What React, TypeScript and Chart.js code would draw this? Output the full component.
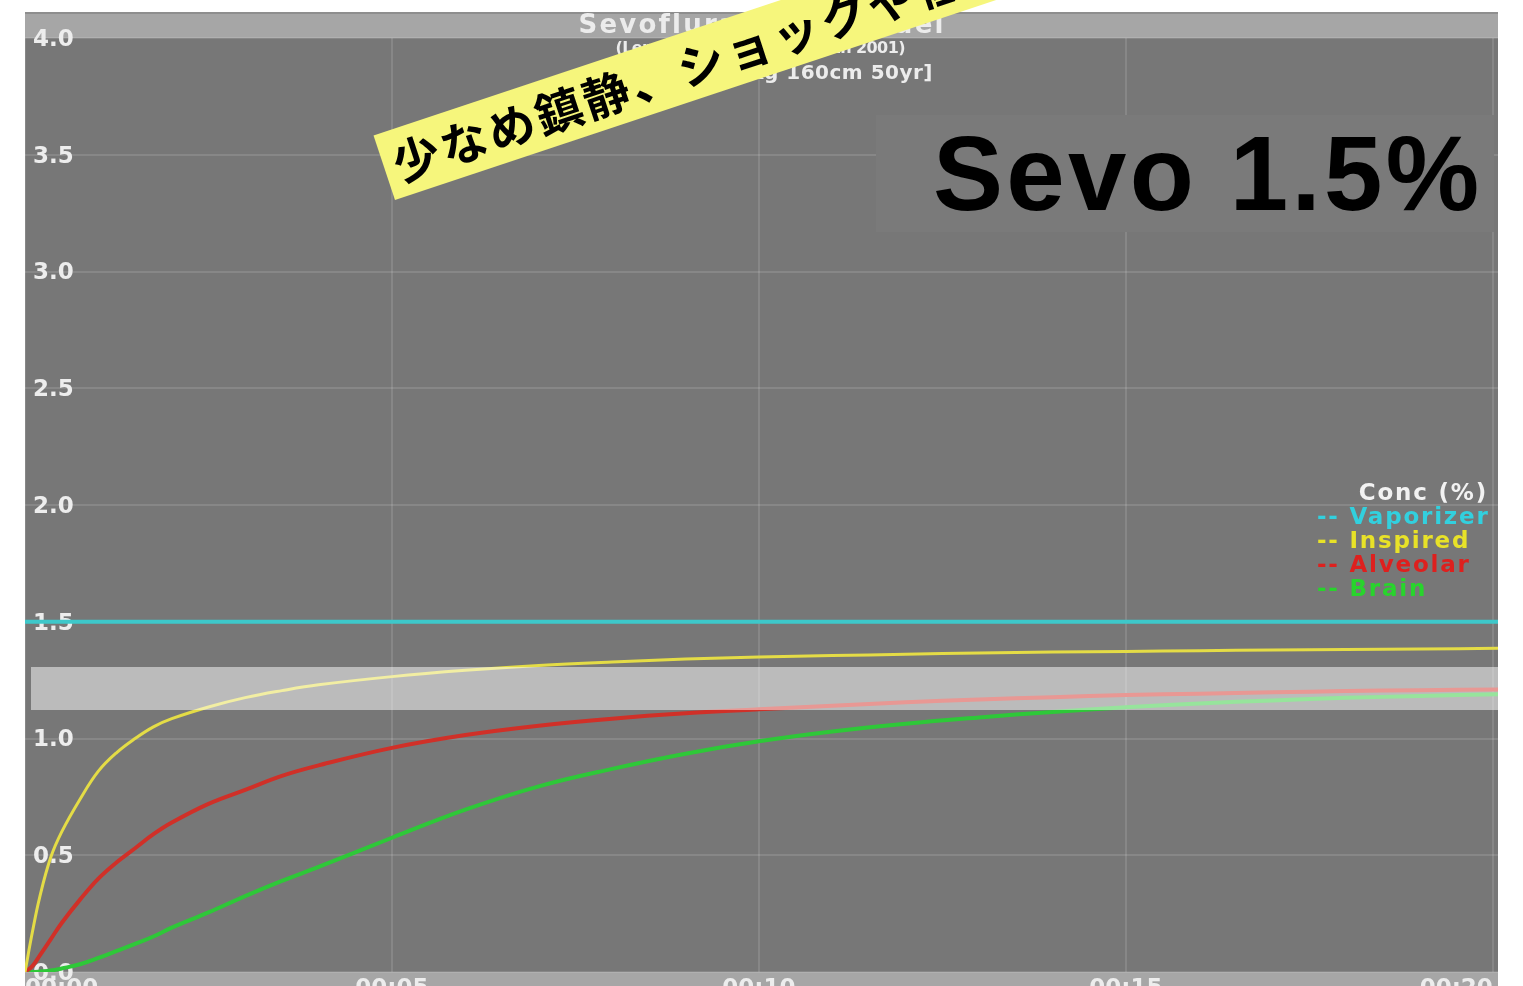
import React, { useEffect, useRef } from 'react';
import { Chart, registerables } from 'chart.js';
Chart.register(...registerables);

// ---- data (minutes, %) ----
const timeMin = [0, 0.1, 0.2, 0.35, 0.5, 0.75, 1, 1.25, 1.5, 1.75, 2, 2.5, 3, 3.5, 4, 5, 6, 7, 8, 9, 10, 11, 12, 13, 14, 15, 16, 17, 18, 19, 20.07];
const inspired = [0, 0.17, 0.32, 0.49, 0.6, 0.74, 0.86, 0.94, 1.0, 1.05, 1.085, 1.135, 1.175, 1.205, 1.23, 1.265, 1.292, 1.313, 1.328, 1.34, 1.349, 1.355, 1.361, 1.366, 1.37, 1.373, 1.376, 1.379, 1.381, 1.383, 1.386];
const alveolar = [0, 0.025, 0.07, 0.14, 0.21, 0.31, 0.4, 0.47, 0.53, 0.59, 0.64, 0.72, 0.78, 0.84, 0.885, 0.96, 1.015, 1.055, 1.085, 1.108, 1.125, 1.14, 1.155, 1.167, 1.177, 1.186, 1.192, 1.198, 1.203, 1.207, 1.21];
const brain = [0, 0, 0.002, 0.006, 0.015, 0.033, 0.06, 0.09, 0.12, 0.152, 0.19, 0.255, 0.325, 0.39, 0.45, 0.575, 0.695, 0.795, 0.87, 0.935, 0.988, 1.03, 1.063, 1.09, 1.114, 1.134, 1.15, 1.163, 1.174, 1.182, 1.19];
const vaporizerTime = [0, 20.07];
const vaporizer = [1.5, 1.5];

const seriesLabels = ['Vaporizer', 'Inspired', 'Alveolar', 'Brain'];
const lineColors = ['rgb(62,200,202)', 'rgb(228,220,70)', 'rgb(208,48,40)', 'rgb(46,200,56)'];
const legendColors = ['rgb(50,208,222)', 'rgb(232,226,40)', 'rgb(222,32,30)', 'rgb(40,212,44)'];
const lineWidths = [4, 3, 4, 4];

const xTickLabels = ['00:00', '00:05', '00:10', '00:15', '00:20'];
const yTickLabels = ['0.0', '0.5', '1.0', '1.5', '2.0', '2.5', '3.0', '3.5', '4.0'];

const titleText = 'Sevoflurane PK Model';
const subtitle1 = '(Lerou & Booij, Br J Anaesth 2001)';
const subtitle2 = '[Female 60kg 160cm 50yr]';
const legendTitle = 'Conc (%)';
const bigNote = 'Sevo 1.5%';
const bannerText = '少なめ鎮静、ショックや低血圧時に';

function fitText(ctx: CanvasRenderingContext2D, text: string, target: number) {
  (ctx as any).letterSpacing = '0px';
  const w = ctx.measureText(text).width;
  const n = Array.from(text).length;
  const ls = (target - w) / Math.max(1, n - 1);
  (ctx as any).letterSpacing = ls + 'px';
}

const overlayPlugin = {
  id: 'overlay',
  beforeDraw(chart: any) {
    const { ctx, chartArea: a } = chart;
    ctx.save();
    ctx.fillStyle = '#ffffff';
    ctx.fillRect(0, 0, chart.width, chart.height);
    ctx.fillStyle = '#a6a6a6';
    ctx.fillRect(a.left, 12, a.right - a.left, a.top - 12);
    ctx.fillStyle = '#8e8e8e';
    ctx.fillRect(a.left, 12, a.right - a.left, 2);
    ctx.fillStyle = '#777777';
    ctx.fillRect(a.left, a.top, a.right - a.left, a.bottom - a.top);
    ctx.fillStyle = '#a6a6a6';
    ctx.fillRect(a.left, a.bottom, a.right - a.left, chart.height - a.bottom);

    const cx = (a.left + a.right) / 2;
    ctx.fillStyle = '#ececec';
    ctx.textBaseline = 'alphabetic';
    ctx.textAlign = 'left';
    ctx.font = 'bold 26px "DejaVu Sans"';
    fitText(ctx, titleText, 364);
    ctx.fillText(titleText, cx - 183, 33);
    ctx.font = 'bold 16px "DejaVu Sans"';
    fitText(ctx, subtitle1, 290);
    ctx.fillText(subtitle1, cx - 146, 53);
    ctx.font = 'bold 20px "DejaVu Sans"';
    (ctx as any).letterSpacing = '0.5px';
    ctx.textAlign = 'right';
    ctx.fillText(subtitle2, 933, 79);
    ctx.restore();
  },
  afterDatasetsDraw(chart: any) {
    const { ctx, chartArea: a } = chart;
    ctx.save();
    ctx.fillStyle = 'rgba(255,255,255,0.5)';
    ctx.fillRect(a.left + 6, 667, a.right - a.left - 6, 43);
    ctx.restore();
  },
  afterDraw(chart: any) {
    const { ctx } = chart;
    ctx.save();
    // legend
    ctx.textBaseline = 'alphabetic';
    ctx.font = 'bold 23px "DejaVu Sans"';
    (ctx as any).letterSpacing = '1.8px';
    ctx.fillStyle = '#f2f2f2';
    ctx.textAlign = 'right';
    ctx.fillText(legendTitle, 1488, 500);
    ctx.textAlign = 'left';
    chart.data.datasets.forEach((ds: any, i: number) => {
      ctx.fillStyle = legendColors[i];
      ctx.fillText('-- ' + ds.label, 1317, 524 + i * 24);
    });

    // Sevo box
    ctx.fillStyle = '#7a7a7a';
    ctx.fillRect(876, 115, 618, 117);
    ctx.fillStyle = '#000000';
    ctx.font = 'bold 105px "Liberation Sans"';
    ctx.textAlign = 'left';
    fitText(ctx, bigNote, 546);
    ctx.fillText(bigNote, 933, 210);

    // yellow banner
    const ang = (-18.4 * Math.PI) / 180;
    ctx.translate(395, 200);
    ctx.rotate(ang);
    ctx.fillStyle = '#f6f67c';
    ctx.fillRect(0, -68, 900, 68);
    ctx.fillStyle = '#000000';
    ctx.font = 'bold 47px "Noto Sans CJK JP"';
    (ctx as any).letterSpacing = '3px';
    ctx.textBaseline = 'middle';
    ctx.fillText(bannerText, 10, -33);
    ctx.restore();
  },
};

export default function App() {
  const ref = useRef<HTMLCanvasElement | null>(null);
  useEffect(() => {
    if (!ref.current) return;
    const mk = (xs: number[], ys: number[]) => xs.map((x, i) => ({ x, y: ys[i] }));
    const series = [mk(vaporizerTime, vaporizer), mk(timeMin, inspired), mk(timeMin, alveolar), mk(timeMin, brain)];
    const chart = new Chart(ref.current, {
      type: 'line',
      data: {
        datasets: series.map((d, i) => ({
          label: seriesLabels[i],
          data: d,
          borderColor: lineColors[i],
          borderWidth: lineWidths[i],
          pointRadius: 0,
          fill: false,
          tension: 0.4,
        })),
      },
      options: {
        responsive: false,
        animation: false,
        devicePixelRatio: 1,
        layout: { padding: { left: 25, right: 25, top: 38, bottom: 0 } },
        plugins: { legend: { display: false }, title: { display: false }, tooltip: { enabled: false } },
        scales: {
          x: {
            type: 'linear',
            min: 0,
            max: 20.07,
            border: { display: false },
            grid: { color: 'rgba(255,255,255,0.12)', lineWidth: 2, drawTicks: false },
            ticks: {
              stepSize: 5,
              includeBounds: false,
              align: 'inner',
              maxRotation: 0,
              padding: 3,
              color: '#ededed',
              font: { family: 'DejaVu Sans', weight: 'bold', size: 23 },
              callback: (_v: any, i: number) => xTickLabels[i],
            },
            afterFit: (s: any) => {
              s.height = 38;
            },
          },
          y: {
            type: 'linear',
            min: 0,
            max: 4,
            border: { display: false },
            grid: { color: 'rgba(255,255,255,0.12)', lineWidth: 2, drawTicks: false },
            ticks: {
              stepSize: 0.5,
              mirror: true,
              padding: 8,
              labelOffset: 2,
              color: '#ededed',
              font: { family: 'DejaVu Sans', weight: 'bold', size: 23 },
              callback: (_v: any, i: number) => yTickLabels[i],
            },
            afterFit: (s: any) => {
              s.width = 0;
            },
          },
        },
      } as any,
      plugins: [overlayPlugin],
    });
    return () => chart.destroy();
  }, []);
  return (
    <div style={{ position: 'fixed', left: 0, top: 0, width: 1523, height: 1010, overflow: 'hidden' }}>
      <canvas ref={ref} width={1523} height={1010} style={{ display: 'block', width: 1523, height: 1010 }} />
    </div>
  );
}
